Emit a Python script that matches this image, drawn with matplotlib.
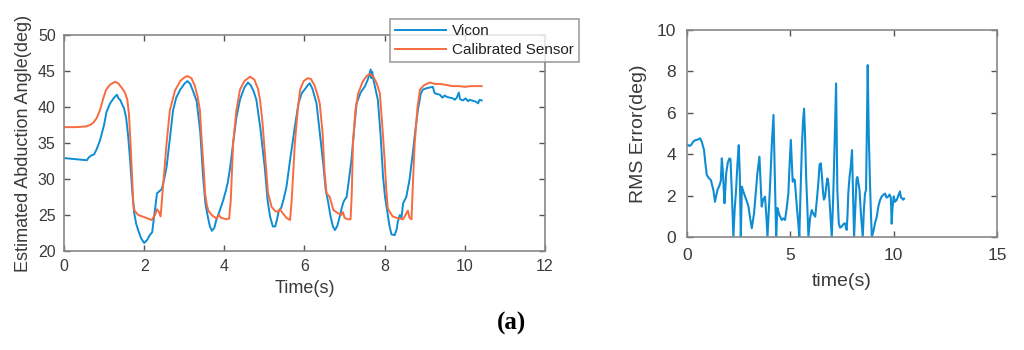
import numpy as np
import matplotlib
matplotlib.use('Agg')
import matplotlib.pyplot as plt

plt.rcParams['font.family'] = ['Liberation Sans', 'DejaVu Sans']

# Vicon reference angle (time s, deg)
vicon = [(0.00, 32.9), (0.20, 32.8), (0.40, 32.7), (0.57, 32.6), (0.62, 33.0), (0.69, 33.3),
         (0.75, 33.4), (0.82, 34.2), (0.90, 35.4), (1.00, 37.5), (1.06, 39.3), (1.15, 40.5),
         (1.25, 41.3), (1.32, 41.7), (1.36, 41.2), (1.40, 41.0), (1.44, 40.5), (1.50, 39.8),
         (1.55, 38.5), (1.60, 36.0), (1.65, 32.6), (1.70, 28.5), (1.75, 25.3), (1.80, 23.8),
         (1.85, 22.9), (1.92, 21.8), (2.00, 21.1), (2.07, 21.5), (2.14, 22.2), (2.20, 22.6),
         (2.27, 25.7), (2.32, 28.0), (2.38, 28.3), (2.44, 28.6), (2.50, 30.0), (2.56, 31.7),
         (2.65, 36.0), (2.72, 39.5), (2.80, 41.3), (2.90, 42.4), (3.00, 43.2), (3.08, 43.6),
         (3.15, 43.2), (3.22, 42.2), (3.31, 40.8), (3.40, 36.5), (3.47, 30.3), (3.53, 26.5),
         (3.59, 24.7), (3.64, 23.4), (3.69, 22.8), (3.75, 23.2), (3.80, 24.3), (3.88, 25.5),
         (3.97, 27.0), (4.04, 28.4), (4.09, 29.6), (4.15, 31.8), (4.22, 35.0), (4.30, 38.5),
         (4.39, 41.0), (4.50, 42.7), (4.59, 43.4), (4.66, 43.0), (4.73, 42.2), (4.80, 41.0),
         (4.90, 37.0), (4.96, 34.0), (5.01, 31.5), (5.08, 27.0), (5.14, 24.8), (5.21, 23.4),
         (5.27, 23.4), (5.32, 24.5), (5.36, 25.6), (5.42, 26.0), (5.48, 27.2), (5.55, 28.9),
         (5.65, 33.0), (5.76, 37.3), (5.85, 40.5), (5.93, 41.9), (6.00, 42.4), (6.08, 43.0),
         (6.13, 43.3), (6.20, 42.5), (6.30, 40.5), (6.38, 36.5), (6.47, 32.0), (6.53, 28.5),
         (6.59, 26.8), (6.65, 24.8), (6.71, 23.4), (6.76, 22.9), (6.82, 23.5), (6.88, 24.8),
         (6.94, 26.2), (6.98, 26.9), (7.05, 27.5), (7.10, 29.5), (7.17, 32.6), (7.24, 37.0),
         (7.30, 40.5), (7.40, 42.0), (7.50, 42.8), (7.58, 43.8), (7.62, 44.6), (7.65, 45.2),
         (7.67, 44.0), (7.69, 44.9), (7.72, 43.8), (7.77, 42.5), (7.83, 41.0), (7.90, 36.0),
         (7.96, 30.3), (8.01, 27.5), (8.06, 25.7), (8.12, 23.5), (8.17, 22.3), (8.25, 22.2),
         (8.30, 23.0), (8.33, 24.1), (8.38, 25.0), (8.42, 24.6), (8.46, 26.6), (8.54, 27.5),
         (8.62, 29.9), (8.70, 33.5), (8.76, 36.5), (8.83, 39.6), (8.90, 41.8), (8.95, 42.4),
         (9.04, 42.6), (9.12, 42.7), (9.20, 42.8), (9.25, 41.9), (9.32, 41.8), (9.38, 41.7),
         (9.44, 41.3), (9.50, 41.6), (9.55, 41.4), (9.62, 41.3), (9.70, 41.2), (9.75, 41.0),
         (9.80, 41.3), (9.85, 42.0), (9.88, 41.1), (9.95, 40.9), (10.02, 41.2), (10.08, 40.8),
         (10.12, 41.0), (10.18, 40.9), (10.24, 40.8), (10.29, 40.7), (10.33, 40.5), (10.37, 41.0),
         (10.42, 40.9)]

# calibrated sensor angle (time s, deg)
sensor = [(0.00, 37.2), (0.30, 37.2), (0.55, 37.3), (0.65, 37.5), (0.73, 37.8), (0.82, 38.5),
          (0.90, 39.6), (0.98, 41.2), (1.05, 42.4), (1.15, 43.1), (1.27, 43.5), (1.35, 43.3),
          (1.45, 42.6), (1.52, 42.0), (1.58, 41.0), (1.62, 39.0), (1.66, 35.0), (1.70, 30.0),
          (1.73, 26.5), (1.76, 25.6), (1.85, 25.0), (1.95, 24.8), (2.05, 24.6), (2.19, 24.3),
          (2.27, 25.0), (2.32, 25.8), (2.37, 25.4), (2.41, 24.8), (2.45, 27.5), (2.50, 31.0),
          (2.56, 35.0), (2.64, 39.5), (2.77, 42.3), (2.90, 43.6), (3.00, 44.1), (3.08, 44.3),
          (3.18, 44.0), (3.26, 43.0), (3.33, 41.5), (3.39, 39.6), (3.44, 35.0), (3.49, 31.0),
          (3.52, 28.0), (3.56, 26.5), (3.60, 25.6), (3.70, 24.9), (3.81, 24.5), (3.86, 25.0),
          (3.92, 24.6), (4.05, 24.4), (4.12, 24.5), (4.16, 27.0), (4.22, 35.0), (4.30, 39.5),
          (4.39, 42.4), (4.50, 43.6), (4.64, 44.2), (4.75, 43.8), (4.84, 42.5), (4.89, 41.0),
          (4.95, 38.0), (5.02, 33.0), (5.09, 28.0), (5.14, 27.0), (5.18, 26.1), (5.26, 25.6),
          (5.33, 25.4), (5.39, 25.8), (5.45, 25.3), (5.55, 24.6), (5.64, 24.3), (5.68, 27.0),
          (5.76, 35.0), (5.83, 39.5), (5.89, 42.4), (5.98, 43.6), (6.08, 44.0), (6.16, 43.9),
          (6.25, 43.0), (6.32, 41.8), (6.38, 40.5), (6.45, 36.5), (6.50, 31.0), (6.55, 28.0),
          (6.63, 27.5), (6.68, 26.5), (6.72, 25.7), (6.82, 25.3), (6.92, 25.0), (6.96, 25.4),
          (7.00, 24.6), (7.08, 24.4), (7.15, 24.4), (7.18, 28.0), (7.21, 35.0), (7.27, 39.5),
          (7.34, 41.9), (7.45, 43.5), (7.55, 44.3), (7.63, 44.6), (7.72, 44.2), (7.80, 43.3),
          (7.88, 41.9), (7.94, 37.5), (8.00, 32.6), (8.04, 28.5), (8.08, 25.9), (8.14, 25.3),
          (8.20, 24.8), (8.30, 24.6), (8.38, 24.5), (8.46, 24.4), (8.54, 25.2), (8.58, 25.6),
          (8.62, 24.6), (8.67, 24.4), (8.71, 30.0), (8.75, 35.0), (8.82, 40.0), (8.88, 42.4),
          (8.98, 43.0), (9.08, 43.3), (9.13, 43.4), (9.25, 43.2), (9.38, 43.2), (9.50, 43.1),
          (9.60, 43.0), (9.70, 42.9), (9.85, 42.9), (10.00, 42.8), (10.15, 42.9), (10.30, 42.9),
          (10.42, 42.9)]

# RMS error (time s, deg)
rms = [(0.00, 4.45), (0.06, 4.44), (0.11, 4.40), (0.20, 4.45), (0.29, 4.60), (0.39, 4.68),
       (0.50, 4.70), (0.63, 4.77), (0.71, 4.60), (0.82, 4.20), (0.88, 3.60), (0.95, 3.00),
       (1.05, 2.85), (1.15, 2.75), (1.27, 2.27), (1.35, 1.70), (1.41, 2.00), (1.47, 2.27),
       (1.57, 2.50), (1.63, 2.70), (1.68, 3.80), (1.72, 3.30), (1.76, 2.60), (1.81, 1.63),
       (1.85, 2.30), (1.89, 3.07), (1.97, 3.60), (2.05, 3.80), (2.10, 3.75), (2.17, 2.00),
       (2.24, 0.00), (2.30, 1.30), (2.37, 2.27), (2.44, 3.60), (2.50, 4.44), (2.55, 3.00),
       (2.60, 0.00), (2.65, 2.43), (2.72, 2.20), (2.81, 1.95), (2.90, 1.70), (2.97, 1.47),
       (3.05, 0.90), (3.13, 0.42), (3.24, 1.14), (3.33, 2.20), (3.40, 3.07), (3.50, 3.88),
       (3.55, 2.80), (3.61, 1.47), (3.68, 1.80), (3.77, 1.95), (3.83, 1.10), (3.89, 0.00),
       (3.95, 1.20), (4.02, 2.60), (4.10, 4.50), (4.18, 5.90), (4.24, 3.20), (4.31, 0.00),
       (4.37, 1.40), (4.45, 1.10), (4.58, 0.82), (4.66, 0.90), (4.74, 0.82), (4.82, 1.40),
       (4.90, 2.10), (4.96, 3.50), (5.02, 4.69), (5.07, 3.50), (5.11, 2.67), (5.16, 2.80),
       (5.21, 2.75), (5.31, 1.47), (5.37, 0.80), (5.43, 0.00), (5.49, 2.20), (5.55, 4.20),
       (5.61, 5.60), (5.66, 6.20), (5.71, 4.80), (5.76, 2.90), (5.82, 1.40), (5.87, 0.00),
       (5.95, 0.90), (6.03, 1.30), (6.12, 1.10), (6.20, 0.98), (6.28, 1.80), (6.35, 2.60),
       (6.41, 3.50), (6.47, 3.56), (6.52, 3.00), (6.57, 2.27), (6.62, 1.80), (6.68, 1.95),
       (6.74, 2.50), (6.79, 2.83), (6.84, 2.60), (6.88, 1.95), (6.94, 1.00), (7.00, 0.00),
       (7.06, 1.60), (7.11, 3.40), (7.16, 5.50), (7.21, 7.42), (7.24, 5.00), (7.27, 2.27),
       (7.34, 0.66), (7.40, 0.45), (7.48, 0.50), (7.56, 0.62), (7.64, 0.66), (7.72, 0.34),
       (7.76, 1.00), (7.80, 2.10), (7.86, 2.90), (7.92, 3.40), (7.98, 4.20), (8.03, 2.00),
       (8.08, 0.00), (8.14, 1.40), (8.20, 2.80), (8.24, 2.90), (8.29, 2.60), (8.34, 2.30),
       (8.42, 1.00), (8.50, 0.00), (8.56, 1.40), (8.61, 2.10), (8.66, 2.27), (8.70, 5.50),
       (8.74, 8.31), (8.79, 5.00), (8.85, 2.60), (8.90, 1.00), (8.94, 0.00), (9.02, 0.30),
       (9.10, 0.70), (9.18, 0.98), (9.26, 1.50), (9.34, 1.79), (9.42, 1.96), (9.50, 2.03),
       (9.58, 2.10), (9.65, 1.90), (9.73, 1.95), (9.80, 2.05), (9.86, 1.90), (9.90, 0.64),
       (9.94, 1.40), (10.00, 1.96), (10.06, 1.70), (10.15, 1.80), (10.22, 2.00), (10.30, 2.20),
       (10.35, 1.90), (10.39, 1.88), (10.45, 1.80), (10.50, 1.85)]

left_xticks = [0, 2, 4, 6, 8, 10, 12]
left_yticks = [20, 25, 30, 35, 40, 45, 50]
right_xticks = [0, 5, 10, 15]
right_yticks = [0, 2, 4, 6, 8, 10]

blue = '#0e8dd3'
orange = '#f96b3f'
frame = '#888888'


def matlab_style(ax, fs, pad):
    for s in ax.spines.values():
        s.set_color(frame)
        s.set_linewidth(1.2)
    ax.tick_params(direction='in', top=True, right=True, length=4, width=1,
                   color='#555555', labelcolor='#3a3a3a', labelsize=fs, pad=pad)


vt, vd = np.array(vicon).T
st, sd = np.array(sensor).T
rt, rd = np.array(rms).T

fig = plt.figure(figsize=(10.24, 3.5), dpi=100)

ax1 = fig.add_axes([0.0625, 0.283, 0.4697, 0.617])
ax1.plot(vt, vd, color=blue, lw=1.4, label='Vicon')
ax1.plot(st, sd, color=orange, lw=1.4, label='Calibrated Sensor')
ax1.set_xlim(0, 12)
ax1.set_ylim(20, 50)
ax1.set_xticks(left_xticks)
ax1.set_yticks(left_yticks)
matlab_style(ax1, 11.5, 6)
ax1.set_xlabel('Time(s)', fontsize=13, color='#3a3a3a', labelpad=4)
ax1.set_ylabel('Estimated Abduction Angle(deg)', fontsize=13, color='#3a3a3a', labelpad=4)
leg = ax1.legend(loc='upper left', bbox_to_anchor=(390 / 1024, 1 - 19 / 350),
                 bbox_transform=fig.transFigure, fontsize=11, frameon=True,
                 fancybox=False, borderpad=0.35, handlelength=3.3, labelspacing=0.3,
                 handletextpad=0.4, borderaxespad=0)
leg.get_frame().set_edgecolor(frame)
leg.get_frame().set_linewidth(1.2)
for txt in leg.get_texts():
    txt.set_color('#222222')

ax2 = fig.add_axes([0.671, 0.323, 0.3027, 0.591])
ax2.plot(rt, rd, color=blue, lw=1.5)
ax2.set_xlim(0, 15)
ax2.set_ylim(0, 10)
ax2.set_xticks(right_xticks)
ax2.set_yticks(right_yticks)
matlab_style(ax2, 12.5, 8)
ax2.set_xlabel('time(s)', fontsize=14, color='#3a3a3a', labelpad=7)
ax2.set_ylabel('RMS Error(deg)', fontsize=14, color='#3a3a3a', labelpad=7)

fig.text(0.5, 0.075, '(a)', ha='center', va='center', fontsize=18,
         fontweight='bold', family=['Liberation Serif', 'DejaVu Serif'])

fig.savefig('out.png', dpi=100)
